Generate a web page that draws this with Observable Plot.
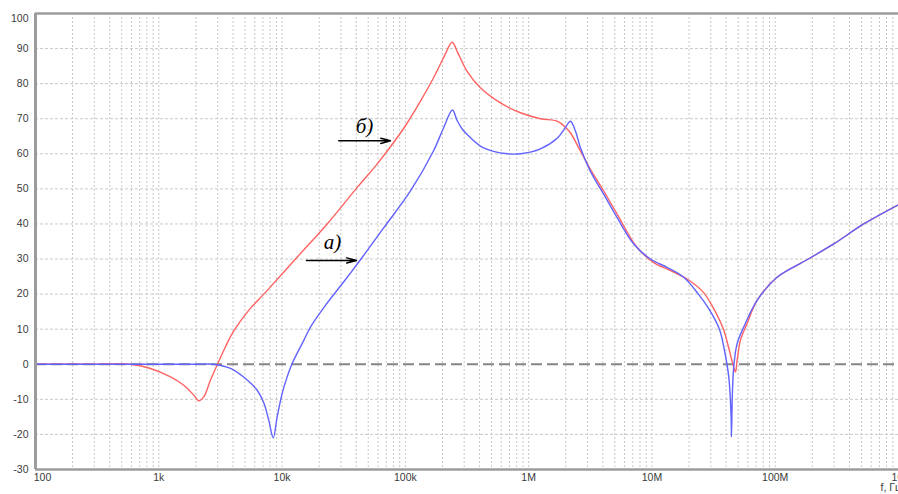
<!DOCTYPE html>
<html><head><meta charset="utf-8">
<script src="https://cdn.jsdelivr.net/npm/d3@7"></script>
<script src="https://cdn.jsdelivr.net/npm/@observablehq/plot@0.6"></script>
<style>html,body{margin:0;padding:0;background:#fff;overflow:hidden;} #chart svg{display:block;}</style>
</head><body><div id="chart"></div>
<script>
// Curve a) (blue)
const freqA = [100, 500, 1000, 2000, 2778, 3815, 5212, 6281, 7105, 7801, 8469, 9127, 10020, 11000, 12070, 15000, 16990, 22490, 29770, 35860, 43240, 66440, 110000, 169000, 203700, 241000, 263000, 290000, 318900, 406500, 518300, 673200, 858200, 1.246e6, 1.712e6, 1.988e6, 2.183e6, 2.396e6, 2.631e6, 3.171e6, 4.064e6, 5.222e6, 7.117e6, 9.72e6, 1.328e7, 1.811e7, 2.382e7, 2.872e7, 3.527e7, 3.873e7, 4.20e7, 4.388e7, 4.414e7, 4.497e7, 4.607e7, 4.909e7, 5.553e7, 7.134e7, 1.035e8, 1.814e8, 2.981e8, 5.222e8, 1e9];
const dbA = [0, 0, 0, 0, 0, -1.2, -4.5, -7.4, -11, -16, -21, -15, -8.3, -3.6, 0.2, 6.8, 10.6, 16.8, 22.3, 26.0, 29.8, 38.8, 49.4, 60.8, 67.3, 72.5, 69.5, 67.0, 65.4, 62.2, 60.7, 60, 60, 61.4, 64.5, 67.5, 69.3, 66.5, 61.7, 55, 48.5, 41.8, 34.3, 30, 27.6, 24.8, 20, 16, 10, 4, -3.6, -15, -20.7, -8, -0.8, 5.9, 10.6, 18.2, 24.8, 29.8, 34.3, 40, 45.5];

// Curve б) (red)
const freqB = [100, 300, 590, 856, 1245, 1595, 1923, 2110, 2317, 2626, 2993, 3475, 4058, 5341, 7330, 12840, 23220, 40890, 57220, 75680, 100200, 132600, 169000, 203700, 239700, 263000, 317000, 406300, 590600, 858600, 1.247e6, 1.703e6, 1.987e6, 2.182e6, 2.631e6, 3.170e6, 4.064e6, 5.222e6, 7.586e6, 1.035e7, 1.413e7, 1.929e7, 2.617e7, 3.153e7, 3.802e7, 4.173e7, 4.497e7, 4.756e7, 4.909e7, 5.220e7, 5.916e7, 7.134e7, 1.035e8, 1.814e8, 2.981e8, 5.222e8, 1e9];
const dbB = [0, 0, 0, -1.2, -3.6, -6, -8.8, -10.4, -9.3, -4.5, 0, 5.0, 9.5, 15.3, 20.5, 30, 40, 50.5, 56.5, 62, 68, 75, 81.6, 87.3, 91.8, 89.2, 83.5, 78.8, 74.5, 71.7, 70, 69.3, 67.6, 66, 60.8, 55.6, 49.4, 42.8, 33.3, 29, 26.7, 24.3, 20.5, 16, 10, 5, 0.5, -2.2, 1.1, 6.8, 11.6, 18.2, 24.8, 29.8, 34.3, 40, 45.5];

// Annotations
const noteLabel = ["а)", "б)"];
const noteX = [25650, 46550];
const noteY = [34.8, 67.9];
const arrowX1 = [15780, 28840];
const arrowX2 = [40090, 75700];
const arrowY = [29.6, 63.7];

// Axes
const xTickValues = [100, 1e3, 1e4, 1e5, 1e6, 1e7, 1e8, 1e9];
const xTickLabels = ["100", "1k", "10k", "100k", "1M", "10M", "100M", "1G"];
const yTicks = [100, 90, 80, 70, 60, 50, 40, 30, 20, 10, 0, -10, -20, -30];
const xTitle = "f, Гц";

const seriesA = freqA.map((f, i) => ({f, db: dbA[i]}));
const seriesB = freqB.map((f, i) => ({f, db: dbB[i]}));
const notes = noteLabel.map((label, i) => ({label, lx: noteX[i], ly: noteY[i], x1: arrowX1[i], x2: arrowX2[i], y: arrowY[i]}));
const xTicks = xTickValues.map((v, i) => ({v, label: xTickLabels[i]}));

const gridX = [];
for (let d = 100; d < 1e9; d *= 10) for (let m = 1; m < 10; m++) gridX.push(d * m);
gridX.push(1e9);
const gridY = yTicks.filter(v => v !== 0 && v !== 100 && v !== -30);

const tickFont = {fontSize: 10.5, fill: "#3a3a3a", fontFamily: "Liberation Sans, Arial, sans-serif"};

const chart = Plot.plot({
  width: 898, height: 494,
  marginLeft: 35, marginRight: 0, marginTop: 13, marginBottom: 25,
  x: {type: "log", domain: [100, 1e9], axis: null},
  y: {domain: [-30, 100], axis: null},
  style: {background: "#fff", fontFamily: "Liberation Sans, Arial, sans-serif"},
  marks: [
    Plot.ruleX(gridX, {stroke: "#c8c8c8", strokeWidth: 1, strokeDasharray: "2,2"}),
    Plot.ruleY(gridY, {stroke: "#c8c8c8", strokeWidth: 1, strokeDasharray: "3,2"}),
    Plot.ruleY([0], {stroke: "#858585", strokeWidth: 2, strokeDasharray: "11,5"}),
    Plot.line(seriesB, {x: "f", y: "db", stroke: "#ff6262", strokeWidth: 1.4, curve: "catmull-rom"}),
    Plot.line(seriesA, {x: "f", y: "db", stroke: "#6262ff", strokeWidth: 1.4, curve: "catmull-rom"}),
    Plot.ruleX([100], {stroke: "#9c9c9c", strokeWidth: 3}),
    Plot.ruleY([100, -30], {stroke: "#9c9c9c", strokeWidth: 2.5}),
    Plot.arrow(notes, {x1: "x1", x2: "x2", y1: "y", y2: "y", stroke: "#000", strokeWidth: 1.5, headLength: 10, headAngle: 30, bend: 0}),
    Plot.text(notes, {x: "lx", y: "ly", text: "label", fontSize: 21, fontStyle: "italic", fontFamily: "Liberation Serif, Times New Roman, serif", fill: "#000"}),
    Plot.text(xTicks.slice(1), {x: "v", text: "label", frameAnchor: "bottom", dy: 11, ...tickFont}),
    Plot.text(xTicks.slice(0, 1), {x: "v", text: "label", frameAnchor: "bottom", dy: 11, dx: 7, ...tickFont}),
    Plot.text(yTicks.slice(1), {y: d => d, text: d => String(d), frameAnchor: "left", textAnchor: "end", dx: -7, ...tickFont}),
    Plot.text(yTicks.slice(0, 1), {y: d => d, text: d => String(d), frameAnchor: "left", textAnchor: "end", dx: -7, dy: 5, ...tickFont}),
    Plot.text([xTitle], {text: d => d, frameAnchor: "bottom-right", textAnchor: "start", dx: -18, dy: 21, ...tickFont})
  ]
});
document.getElementById("chart").appendChild(chart);
</script>
</body></html>
